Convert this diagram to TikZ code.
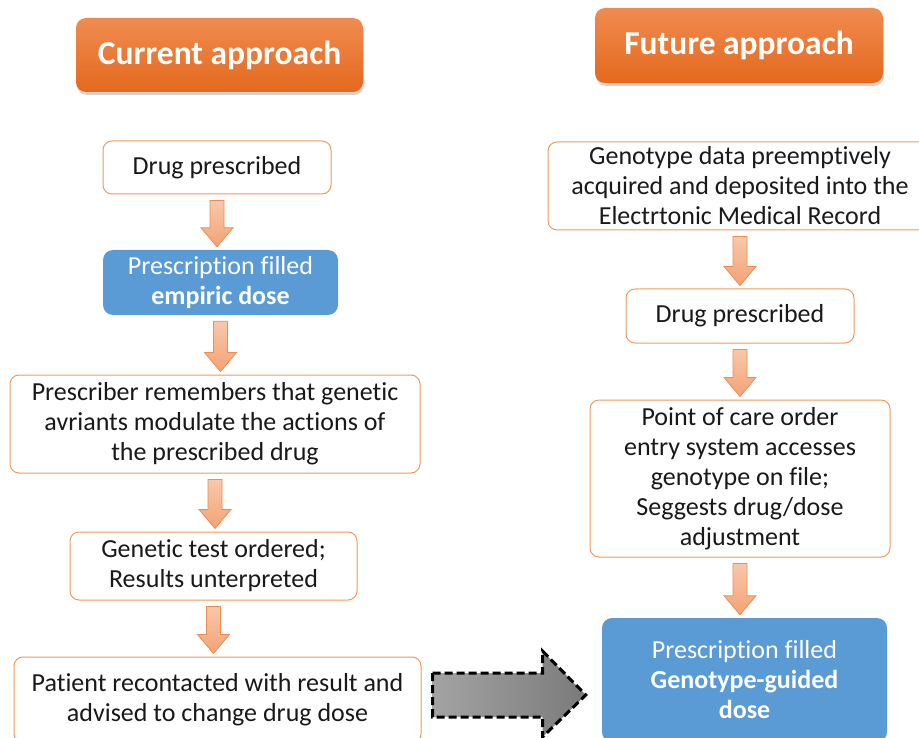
\documentclass[tikz,border=0pt]{standalone}
\usepackage{fontspec}
\setmainfont{Carlito}[Ligatures=NoCommon]
\usetikzlibrary{calc,shadows}

\definecolor{boxline}{HTML}{F19A5E}
\definecolor{doseblue}{HTML}{5B9BD5}
\definecolor{btntop}{HTML}{F08B50}
\definecolor{btnbot}{HTML}{E4691D}
\definecolor{arrtop}{HTML}{F8C8AA}
\definecolor{arrbot}{HTML}{F3A274}
\definecolor{arrline}{HTML}{EE8C52}

\tikzset{
  stepbox/.style={draw=boxline,line width=1pt,rounded corners=9pt,fill=white,
    align=center,inner sep=0pt,text=black!90,font=\fontsize{26}{30}\selectfont},
  dosebox/.style={fill=doseblue,rounded corners=10pt,align=center,inner sep=0pt,
    text=white,font=\fontsize{26}{30}\selectfont},
  headbox/.style={rounded corners=10pt,top color=btntop,bottom color=btnbot,
    text=white,inner sep=0pt,font=\bfseries\fontsize{33.5}{38}\selectfont,
    drop shadow={shadow xshift=1pt,shadow yshift=-3pt,opacity=0.35}},
  downarrow/.style={draw=arrline,line width=0.8pt,top color=arrtop,bottom color=arrbot},
  bigarrow/.style={draw=black,line width=3pt,dash pattern=on 8pt off 4pt,
    left color=black!36,right color=black!52}
}

% block arrow from one box down to the next
\newcommand{\flowdown}[2]{%
  \draw[downarrow] let \p1=($(#1.south)+(0,6)$), \p2=($(#2.north)+(0,-3)$) in
    (\x1-7,\y1) -- (\x1+7,\y1) -- (\x1+7,\y2+19) -- (\x1+16,\y2+19) -- (\x1,\y2)
    -- (\x1-16,\y2+19) -- (\x1-7,\y2+19) -- cycle;}

\begin{document}
\begin{tikzpicture}[x=1pt,y=-1pt]
\useasboundingbox (0,0) rectangle (919,738);

% headers
\node[headbox,minimum width=287pt,minimum height=74pt] (cur) at (219.5,55) {Current approach};
\node[headbox,minimum width=288pt,minimum height=75pt] (fut) at (739,45.5) {Future approach};

% current approach
\node[stepbox,minimum width=228pt,minimum height=53pt] (drugL) at (217,167.5) {Drug prescribed};
\node[dosebox,minimum width=235pt,minimum height=65pt] (fillL) at (220.5,282.5) {Prescription filled\\\textbf{empiric dose}};
\node[stepbox,minimum width=410pt,minimum height=98pt] (remind) at (215,424) {Prescriber remembers that genetic\\avriants modulate the actions of\\the prescribed drug};
\node[stepbox,minimum width=287pt,minimum height=68pt] (test) at (213.5,566) {Genetic test ordered;\\Results unterpreted};
\node[stepbox,minimum width=407pt,minimum height=86pt] (patient) at (217.5,700) {Patient recontacted with result and\\advised to change drug dose};

% future approach
\node[stepbox,minimum width=384pt,minimum height=88pt] (geno) at (740,186) {Genotype data preemptively\\acquired and deposited into the\\Electrtonic Medical Record};
\node[stepbox,minimum width=228pt,minimum height=54pt] (drugR) at (740,316) {Drug prescribed};
\node[stepbox,minimum width=300pt,minimum height=157pt] (poc) at (740,478.5) {Point of care order\\entry system accesses\\genotype on file;\\Seggests drug/dose\\adjustment};
\node[dosebox,minimum width=285pt,minimum height=124pt] (fillR) at (744.5,680) {Prescription filled\\\textbf{Genotype-guided}\\\textbf{dose}};

\flowdown{drugL}{fillL}
\flowdown{fillL}{remind}
\flowdown{remind}{test}
\flowdown{test}{patient}
\flowdown{geno}{drugR}
\flowdown{drugR}{poc}
\flowdown{poc}{fillR}

% dashed arrow across
\coordinate (bigL) at ($(patient.east)+(11,-5)$);
\draw[bigarrow] let \p1=(bigL), \p2=(fillR.west) in
  (\x1,\y1+22) -- (\x1+110,\y1+22) -- (\x1+110,\y1+44) -- (\x2-16,\y1)
  -- (\x1+110,\y1-42) -- (\x1+110,\y1-22) -- (\x1,\y1-22) -- cycle;
\end{tikzpicture}
\end{document}
